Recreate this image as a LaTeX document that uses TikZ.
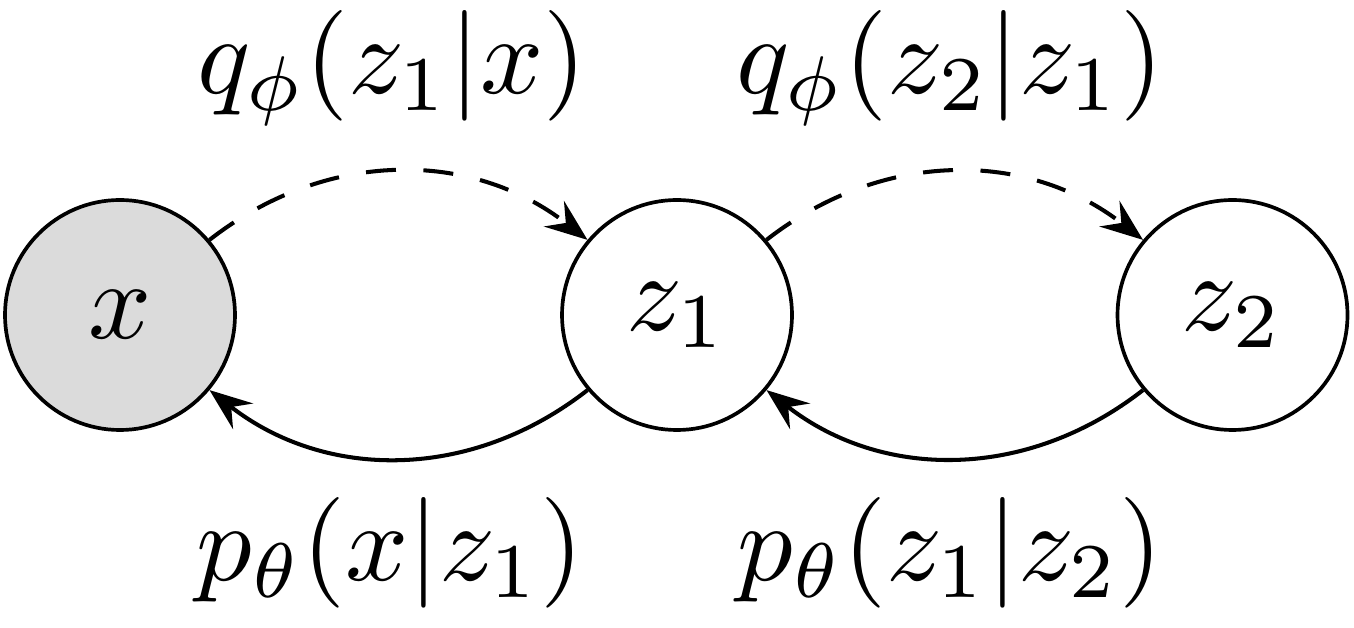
\documentclass[tikz,border=0pt]{standalone}
\usetikzlibrary{arrows.meta}
\newcommand\BigT[1]{\scalebox{6.3}{$#1$}}
\begin{document}
\begin{tikzpicture}[
  var/.style={circle, draw, line width=2.1pt, minimum size=4.6cm, inner sep=0pt},
  obs/.style={var, fill=black!14},
  enc/.style={line width=2.3pt, dash pattern=on 0.6cm off 0.55cm, -{Stealth[length=0.85cm,width=0.65cm,inset=0.3cm]}},
  dec/.style={line width=2.3pt, -{Stealth[length=0.85cm,width=0.65cm,inset=0.3cm]}},
  lbl/.style={inner sep=0pt}
]
\useasboundingbox (0,0) rectangle (27.08,12.56);
\node[obs] (x) at (2.4,6.26) {\BigT{x}};
\node[var] (z1) at (13.54,6.26) {\BigT{z_1}};
\node[var] (z2) at (24.65,6.26) {\BigT{z_2}};
\draw[enc] (x.40) to[out=38,in=142] (z1.140);
\draw[enc] (z1.40) to[out=38,in=142] (z2.140);
\draw[dec] (z1.-140) to[out=-142,in=-38] (x.-40);
\draw[dec] (z2.-140) to[out=-142,in=-38] (z1.-40);
\node[lbl] (l1) at (7.84,11.2) {\BigT{q_\phi(z_1|x)}};
\node[lbl] (l2) at (19.0,11.2) {\BigT{q_\phi(z_2|z_1)}};
\node[lbl] (l3) at (7.8,1.5) {\BigT{p_\theta(x|z_1)}};
\node[lbl] (l4) at (19.0,1.5) {\BigT{p_\theta(z_1|z_2)}};
\end{tikzpicture}
\end{document}
